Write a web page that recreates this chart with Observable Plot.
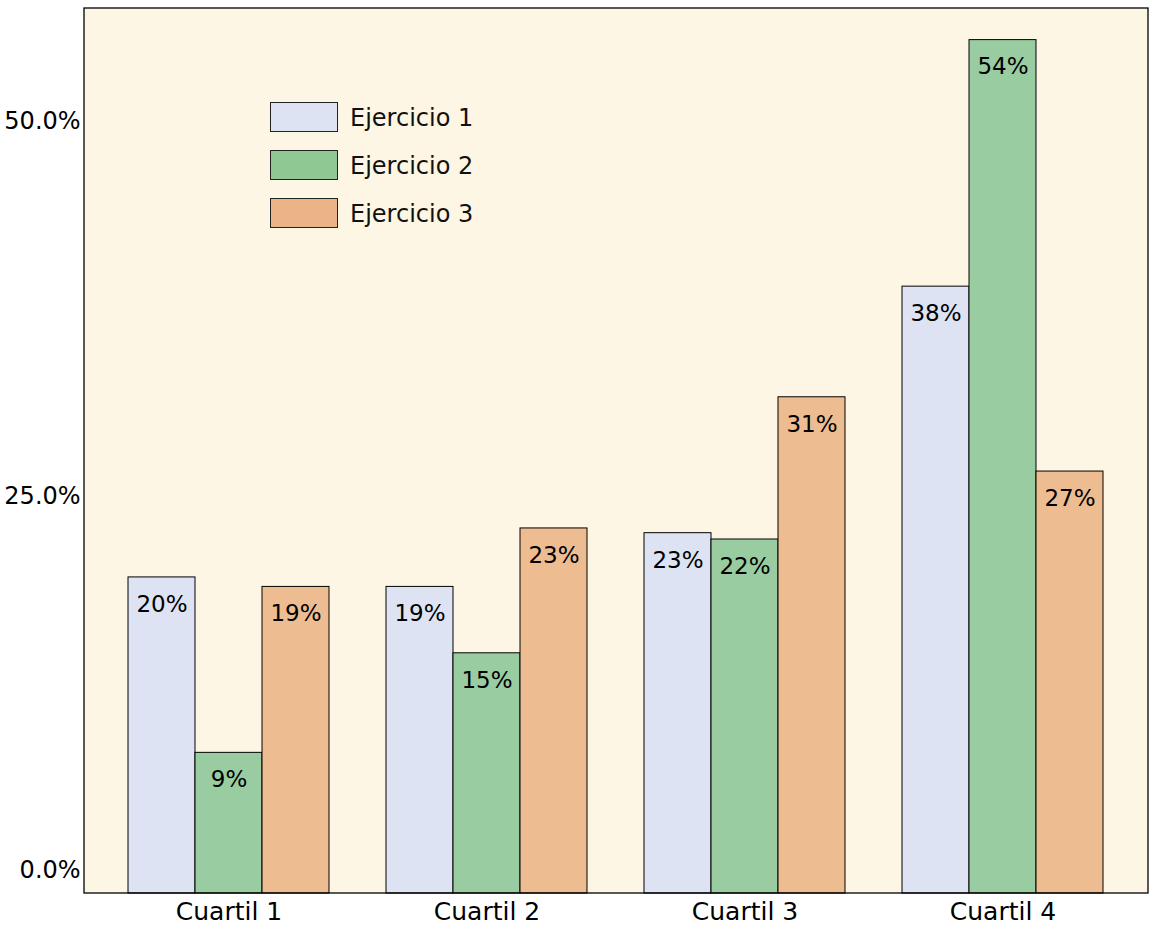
<!DOCTYPE html>
<html>
<head>
<meta charset="utf-8">
<script src="https://cdn.jsdelivr.net/npm/d3@7"></script>
<script src="https://cdn.jsdelivr.net/npm/@observablehq/plot@0.6"></script>
<style>
  body { margin: 0; background: white; }
  #wrap { position: relative; width: 1157px; height: 932px; font-family: "DejaVu Sans", sans-serif; }
  #legend { position: absolute; left: 270px; top: 102px; }
  .item { display: flex; align-items: center; height: 30px; margin-bottom: 18px; }
  .sw { width: 66px; height: 28px; border: 1px solid #222; box-sizing: content-box; }
  .lab { margin-left: 12px; font-size: 24px; color: #111; position: relative; top: 1px; }
</style>
</head>
<body>
<div id="wrap"><div id="legend"></div></div>
<script>
const quartiles = ["Cuartil 1", "Cuartil 2", "Cuartil 3", "Cuartil 4"];
const ejercicios = ["Ejercicio 1", "Ejercicio 2", "Ejercicio 3"];
const ej1 = [20.0, 19.4, 22.8, 38.4];
const ej2 = [8.9, 15.2, 22.4, 54.0];
const ej3 = [19.4, 23.1, 31.4, 26.7];
const colors = ["#dde3f3", "#99cca0", "#edbc90"];
const legendColors = ["#dde3f3", "#8fc893", "#eab487"];
const yTickValues = [1.46, 25.13, 48.86];
const yTickLabels = ["0.0%", "25.0%", "50.0%"];

const series = [ej1, ej2, ej3];
const data = [];
quartiles.forEach((q, i) => {
  ejercicios.forEach((e, j) => {
    data.push({cuartil: q, ejercicio: e, value: series[j][i]});
  });
});
const tickMap = new Map(yTickValues.map((v, i) => [v, yTickLabels[i]]));

const W = 1157, H = 932, ML = 84, MR = 9, MT = 8, MB = 39;
const padOuter = 0.17, padInner = 0.22;
const step = (W - ML - MR) / (quartiles.length - padInner + 2 * padOuter);
const outerPx = step * padOuter;

const chart = Plot.plot({
  width: W,
  height: H,
  marginLeft: ML,
  marginRight: MR,
  marginTop: MT,
  marginBottom: MB,
  style: {fontFamily: "'DejaVu Sans', sans-serif", background: "white"},
  fx: {domain: quartiles, paddingInner: padInner, paddingOuter: padOuter, label: null},
  x: {domain: ejercicios, padding: 0, axis: null},
  y: {domain: [0, 56], axis: null},
  color: {domain: ejercicios, range: colors},
  marks: [
    Plot.barY(data, {fx: "cuartil", x: "ejercicio", y: "value", fill: "ejercicio", stroke: "black", strokeWidth: 1}),
    Plot.text(data, {fx: "cuartil", x: "ejercicio", y: "value", text: d => Math.round(d.value) + "%", dy: 27, fontSize: 23, fill: "black"}),
    Plot.axisY(yTickValues, {tickFormat: d => tickMap.get(d), tickSize: 0, tickPadding: outerPx + 4, fontSize: 24, label: null, fill: "black"}),
    Plot.axisFx({anchor: "bottom", tickSize: 0, tickPadding: 9, fontSize: 25, label: null, fill: "black"})
  ]
});

const svg = d3.select(chart);
svg.insert("rect", ":first-child")
  .attr("x", ML).attr("y", MT)
  .attr("width", W - ML - MR).attr("height", H - MT - MB)
  .attr("fill", "#fdf6e4");
svg.append("rect")
  .attr("x", ML).attr("y", MT)
  .attr("width", W - ML - MR).attr("height", H - MT - MB)
  .attr("fill", "none").attr("stroke", "black").attr("stroke-width", 1.3);

document.getElementById("wrap").prepend(chart);
chart.style.position = "absolute";
chart.style.left = "0";
chart.style.top = "0";

const legend = document.getElementById("legend");
ejercicios.forEach((e, j) => {
  const it = document.createElement("div");
  it.className = "item";
  const sw = document.createElement("div");
  sw.className = "sw";
  sw.style.background = legendColors[j];
  const lab = document.createElement("span");
  lab.className = "lab";
  lab.textContent = e;
  it.append(sw, lab);
  legend.append(it);
});
</script>
</body>
</html>
